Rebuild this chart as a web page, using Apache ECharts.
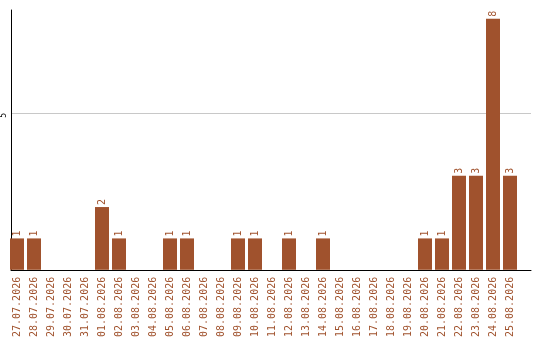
<!DOCTYPE html>
<html>
<head>
<meta charset="utf-8">
<script src="https://cdn.jsdelivr.net/npm/echarts@6/dist/echarts.min.js"></script>
<style>
  html, body { margin: 0; padding: 0; background: #fff; }
  #chart { width: 540px; height: 340px; }
</style>
</head>
<body>
<div id="chart"></div>
<script>
// Daily counts, 27.07.2026 – 25.08.2026
const days = [
  '27.07.2026', '28.07.2026', '29.07.2026', '30.07.2026', '31.07.2026',
  '01.08.2026', '02.08.2026', '03.08.2026', '04.08.2026', '05.08.2026',
  '06.08.2026', '07.08.2026', '08.08.2026', '09.08.2026', '10.08.2026',
  '11.08.2026', '12.08.2026', '13.08.2026', '14.08.2026', '15.08.2026',
  '16.08.2026', '17.08.2026', '18.08.2026', '19.08.2026', '20.08.2026',
  '21.08.2026', '22.08.2026', '23.08.2026', '24.08.2026', '25.08.2026'
];
const counts = [
  1, 1, 0, 0, 0,
  2, 1, 0, 0, 1,
  1, 0, 0, 1, 1,
  0, 1, 0, 1, 0,
  0, 0, 0, 0, 1,
  1, 3, 3, 8, 3
];
const yTicks = [5];

const brown = '#a0522d';
const mono = '"DejaVu Sans Mono", monospace';
const yMax = 8.28;

const chart = echarts.init(document.getElementById('chart'), null, { renderer: 'canvas' });
chart.setOption({
  animation: false,
  grid: [
    // frame: axis lines and the gridline
    { left: 10, right: 9, top: 10, bottom: 70 },
    // bars and date labels
    { left: 8.5, width: 510, top: 10, bottom: 70 }
  ],
  xAxis: [
    {
      gridIndex: 0, type: 'value', min: 0, max: 1,
      axisLine: { show: true, onZero: false, lineStyle: { color: '#000', width: 1 } },
      axisTick: { show: false }, axisLabel: { show: false }, splitLine: { show: false }
    },
    {
      gridIndex: 1, type: 'category', data: days,
      axisLine: { show: false }, axisTick: { show: false },
      axisLabel: {
        interval: 0, rotate: 90, margin: 7,
        color: brown, fontFamily: mono, fontSize: 10
      }
    }
  ],
  yAxis: [
    {
      gridIndex: 0, type: 'value', min: 0, max: yMax, interval: 5,
      axisLine: { show: true, lineStyle: { color: '#000', width: 1 } },
      axisTick: { show: false },
      axisLabel: {
        rotate: 90, margin: 3, color: '#000', fontFamily: mono, fontSize: 8,
        align: 'right',
        showMaxLabel: false,
        formatter: v => (yTicks.indexOf(v) >= 0 ? String(v) : '')
      },
      splitLine: {
        show: true, showMinLine: false, showMaxLine: false,
        lineStyle: { color: '#c8c8c8', width: 1 }
      }
    },
    {
      gridIndex: 1, type: 'value', min: 0, max: yMax,
      show: false, splitLine: { show: false }
    }
  ],
  series: [{
    type: 'bar',
    xAxisIndex: 1, yAxisIndex: 1,
    data: counts,
    barWidth: 14,
    itemStyle: { color: brown },
    label: {
      show: true, position: 'top', rotate: 90, distance: 2,
      align: 'left', verticalAlign: 'middle',
      color: brown, fontFamily: mono, fontSize: 10,
      formatter: p => (p.value ? String(p.value) : '')
    }
  }]
});
</script>
</body>
</html>
